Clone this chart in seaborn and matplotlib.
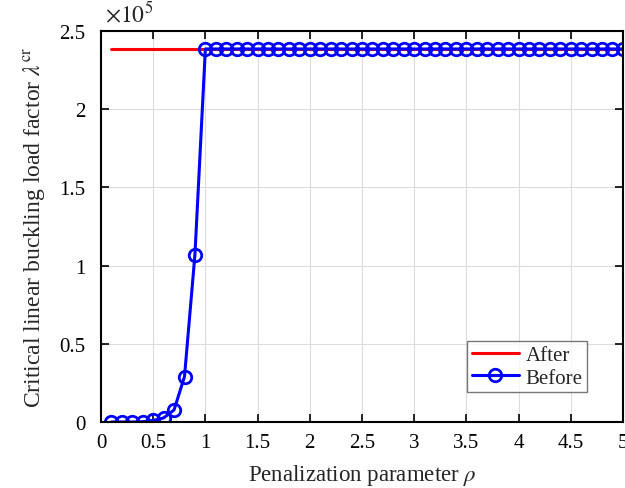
import matplotlib
matplotlib.use("Agg")
import matplotlib.pyplot as plt
import numpy as np
import pandas as pd
import seaborn as sns

# penalization parameter rho = 0.1 ... 5.0
rho = [round(0.1 * i, 1) for i in range(1, 51)]
after = [2.385e5] * 50
before = ([0.0, 0.0, 0.0, 0.002e5, 0.01e5, 0.026e5, 0.077e5, 0.29e5, 1.07e5]
          + [2.385e5] * 41)

df = pd.DataFrame({"rho": rho, "After": after, "Before": before})

sns.set_theme(style="ticks")
plt.rcParams["font.family"] = ["Liberation Serif", "DejaVu Serif"]
plt.rcParams["mathtext.fontset"] = "stix"

fig = plt.figure(figsize=(6.25, 4.89), dpi=100)
ax = fig.add_axes([0.1616, 0.135, 0.835, 0.7996])

sns.lineplot(data=df, x="rho", y="After", ax=ax, color="#ff0000", lw=2.2,
             label="After")
sns.lineplot(data=df, x="rho", y="Before", ax=ax, color="#0000ff", lw=2.2,
             marker="o", markersize=9, markerfacecolor="none",
             markeredgecolor="#0000ff", markeredgewidth=2.0, label="Before")

ax.set_xlim(0, 5)
ax.set_ylim(0, 2.5e5)
ax.set_xticks(np.arange(0, 5.01, 0.5))
ax.set_yticks(np.arange(0, 2.51e5, 0.5e5))
ax.set_xticklabels(["0", "0.5", "1", "1.5", "2", "2.5", "3", "3.5", "4", "4.5", "5"])
ax.set_yticklabels(["0", "0.5", "1", "1.5", "2", "2.5"])
ax.text(0.007, 1.012, r"$\times10^5$", transform=ax.transAxes, fontsize=17,
        ha="left", va="bottom")

ax.grid(True, color="#dcdcdc", lw=0.8)
ax.tick_params(direction="in", top=True, right=True, length=6, width=1.2,
               labelsize=15, colors="black")
ax.tick_params(axis="y", pad=11)
ax.tick_params(axis="x", pad=8)
for s in ax.spines.values():
    s.set_linewidth(1.5)
    s.set_color("black")

ax.set_xlabel(r"Penalization parameter $\rho$", fontsize=16.5, labelpad=7)
ax.set_ylabel(r"Critical linear buckling load factor $\lambda^{\mathrm{cr}}$",
              fontsize=17, labelpad=9)

leg = ax.legend(loc="lower right", bbox_to_anchor=(0.931, 0.077), fontsize=15,
                frameon=True, fancybox=False, edgecolor="#555555",
                borderpad=0.2, handlelength=2.3, labelspacing=0.15,
                handletextpad=0.3, borderaxespad=0)
leg.get_frame().set_linewidth(1.0)

fig.savefig("out.png", dpi=100)
